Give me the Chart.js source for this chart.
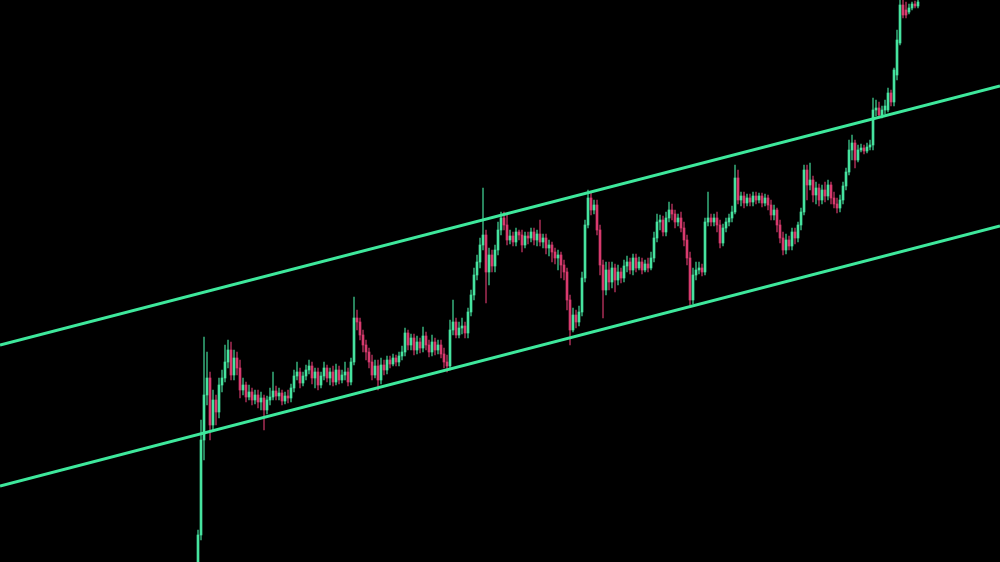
<!DOCTYPE html>
<html>
<head>
<meta charset="utf-8">
<script src="https://cdn.jsdelivr.net/npm/chart.js@4.4.1/dist/chart.umd.min.js"></script>
<style>
  html, body { margin: 0; padding: 0; background: #000; }
  #wrap { width: 1000px; height: 562px; position: relative; }
</style>
</head>
<body>
<div id="wrap"><canvas id="candles"></canvas></div>
<script>
'use strict';

// candle OHLC values, one entry per bar (oldest first)
const opens = [25,65,160,205,222,175,200,188,215,222,238,250,225,242,232,210,215,203,208,200,205,198,202,190,200,203,209,204,207,199,
  204,202,212,224,228,217,224,230,234,222,228,215,224,232,222,228,218,230,220,225,228,218,238,282,278,265,255,248,238,225,
  234,220,235,230,240,236,242,238,244,248,267,255,262,250,258,252,264,255,248,258,250,255,246,238,234,270,278,265,272,274,
  267,288,305,325,338,355,365,328,345,334,350,370,382,375,360,364,358,368,365,355,364,362,368,360,366,358,362,352,355,348,
  342,345,335,328,300,270,285,278,288,322,375,402,390,395,370,335,310,330,318,332,320,328,322,334,338,330,342,332,338,330,
  336,332,342,362,378,380,368,382,390,386,378,382,372,360,342,300,325,330,332,328,378,382,378,382,375,357,372,378,382,388,
  422,400,404,397,402,398,404,400,404,397,402,395,385,390,375,362,350,360,354,368,362,375,388,430,415,420,405,412,400,410,
  404,415,402,396,392,400,414,428,450,457,440,450,452,449,453,455,490,492,485,490,490,507,498,525,557,595,590,588,592,596,594];
const highs = [70,180,263,248,228,210,205,222,230,255,260,258,250,248,240,222,218,215,212,210,210,208,205,204,212,228,214,212,210,208,
  210,216,230,238,232,228,235,240,238,232,232,228,238,235,232,234,236,234,230,238,232,242,303,290,282,270,260,252,245,240,
  240,242,240,244,244,246,245,248,254,272,270,266,266,264,262,273,268,260,265,262,260,260,252,245,280,300,282,278,282,278,
  292,310,332,345,362,412,370,352,350,355,378,388,388,385,370,368,372,370,370,368,368,372,372,370,380,366,366,360,358,352,
  350,348,340,332,305,292,290,294,328,380,410,408,400,400,375,340,338,338,338,336,335,332,340,344,342,346,346,343,342,340,
  342,348,368,386,385,384,388,398,396,390,386,388,378,365,348,332,338,338,336,382,408,386,386,388,380,376,382,386,394,435,
  430,408,408,406,406,408,408,407,407,406,405,400,395,392,380,368,366,364,372,372,378,392,435,435,437,424,418,416,415,418,
  420,418,408,402,405,418,432,460,465,460,455,456,455,457,460,502,500,498,494,500,512,510,532,570,610,600,598,596,598,599,600];
const lows = [20,60,140,195,160,170,175,182,208,218,232,220,220,225,202,205,198,200,195,196,192,190,170,186,195,200,200,200,195,196,
  197,198,208,220,212,214,220,226,216,212,210,212,220,218,215,214,215,216,217,220,214,215,235,270,260,248,240,232,220,222,
  210,216,225,226,232,234,234,234,240,244,250,250,245,246,247,248,250,243,244,245,246,242,232,228,230,265,262,262,266,262,
  262,284,300,320,332,350,297,315,328,328,345,365,370,355,356,354,354,360,348,352,356,358,355,354,354,352,346,344,338,336,
  330,322,320,290,255,268,272,274,284,318,372,385,386,365,325,282,305,310,312,308,315,317,318,328,326,325,328,330,326,328,
  328,330,338,358,370,364,364,378,380,372,374,368,354,335,293,296,320,326,324,325,374,374,374,368,352,354,368,374,378,386,
  396,394,392,394,394,394,396,397,393,394,390,380,380,368,357,345,346,350,350,356,358,370,385,400,410,398,396,394,396,398,
  400,396,392,387,388,396,410,425,440,432,438,448,446,447,450,450,484,482,482,486,488,494,494,520,555,582,582,586,590,592,592];
const closes = [65,160,205,222,175,200,188,215,222,238,250,225,242,232,210,215,203,208,200,205,198,202,190,200,203,209,204,207,199,204,
  202,212,224,228,217,224,230,234,222,228,215,224,232,222,228,218,230,220,225,228,218,238,282,278,265,255,248,238,225,234,
  220,235,230,240,236,242,238,244,248,267,255,262,250,258,252,264,255,248,258,250,255,246,238,234,270,278,265,272,274,267,
  288,305,325,338,355,365,328,345,334,350,370,382,375,360,364,358,368,365,355,364,362,368,360,366,358,362,352,355,348,342,
  345,335,328,300,270,285,278,288,322,375,402,390,395,370,335,310,330,318,332,320,328,322,334,338,330,342,332,338,330,336,
  332,342,362,378,380,368,382,390,386,378,382,372,360,342,300,325,330,332,328,378,382,378,382,375,357,372,378,382,388,422,
  400,404,397,402,398,404,400,404,397,402,395,385,390,375,362,350,360,354,368,362,375,388,430,415,420,405,412,400,410,404,
  415,402,396,392,400,414,428,450,457,440,450,452,449,453,455,490,492,485,490,494,507,498,530,560,595,585,585,592,596,594,598];

// channel lines: value at the left and right edge of the view
const channelUpper = [255, 514];
const channelLower = [114, 374];

const viewStart = -66;
const viewEnd = 267.33;

const upColor = '#46e39f';
const downColor = '#d83a6e';
const lineColor = '#3ee89c';

const bodies = closes.map((c, i) => ({ x: i, y: [opens[i], c] }));
const wicks = closes.map((c, i) => ({ x: i, y: [lows[i], highs[i]] }));
const candleColors = closes.map((c, i) => c >= opens[i] ? upColor : downColor);
const wickColors = closes.map((c, i) => c >= opens[i] ? 'rgba(70,227,159,0.7)' : 'rgba(216,58,110,0.7)');

const ctx = document.getElementById('candles').getContext('2d');

new Chart(ctx, {
    type: 'bar',
    data: {
        datasets: [{
            type: 'line',
            data: [{ x: viewStart, y: channelUpper[0] }, { x: viewEnd, y: channelUpper[1] }],
            borderColor: lineColor,
            borderWidth: 3,
            pointRadius: 0,
            order: 0
        }, {
            type: 'line',
            data: [{ x: viewStart, y: channelLower[0] }, { x: viewEnd, y: channelLower[1] }],
            borderColor: lineColor,
            borderWidth: 3,
            pointRadius: 0,
            order: 0
        }, {
            data: bodies,
            backgroundColor: candleColors,
            barThickness: 2,
            grouped: false,
            borderSkipped: false,
            order: 1
        }, {
            data: wicks,
            backgroundColor: wickColors,
            barThickness: 1,
            grouped: false,
            order: 2
        }]
    },
    options: {
        responsive: true,
        maintainAspectRatio: false,
        animation: false,
        layout: { padding: 0 },
        plugins: {
            legend: { display: false },
            tooltip: { enabled: false }
        },
        scales: {
            x: {
                type: 'linear',
                min: viewStart,
                max: viewEnd,
                offset: false,
                display: false
            },
            y: {
                min: 38,
                max: 600,
                display: false
            }
        }
    }
});
</script>
</body>
</html>
